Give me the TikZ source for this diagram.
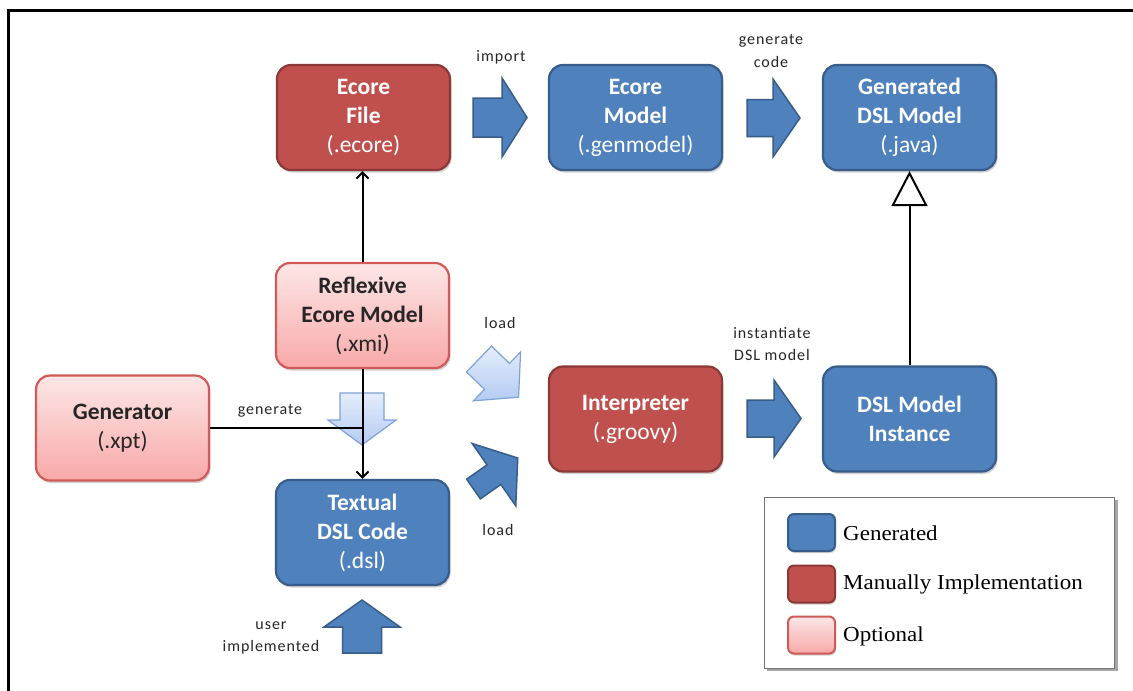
\documentclass[tikz,border=0pt]{standalone}
\usepackage{fontspec}
\setmainfont{Carlito}
\newfontfamily\labelfont[LetterSpace=6]{Carlito}
\newfontfamily\legendfont[FakeStretch=1.08]{Liberation Serif}
\usetikzlibrary{arrows.meta,shadows}
\definecolor{gblue}{HTML}{4F81BD}
\definecolor{gblueb}{HTML}{385D8A}
\definecolor{mred}{HTML}{C0504D}
\definecolor{mredb}{HTML}{8C3836}
\definecolor{opt1}{HTML}{FDE6E6}
\definecolor{opt2}{HTML}{F8A9A9}
\definecolor{optb}{HTML}{D05A57}
\definecolor{lb1}{HTML}{E4EDFB}
\definecolor{lb2}{HTML}{B4CBF2}
\definecolor{lbb}{HTML}{7EA2D6}
\definecolor{txt}{HTML}{262626}
\newcommand{\blockarr}[8]{\draw[#1, shift={(#2,#3)}, rotate=#4] (0,-#7) -- ({#5-#6},-#7) -- ({#5-#6},-#8) -- (#5,0) -- ({#5-#6},#8) -- ({#5-#6},#7) -- (0,#7) -- cycle;}
\begin{document}
\begin{tikzpicture}[x=1pt,y=1pt,
  box/.style={rounded corners=14pt, minimum width=173pt, minimum height=105pt, align=center,
    line width=2.2pt, font=\fontsize{23.5}{29}\selectfont, inner sep=0pt,
    drop shadow={shadow xshift=1.5pt, shadow yshift=-2.5pt, opacity=0.18, fill=black}},
  genbox/.style={box, fill=gblue, draw=gblueb, text=white},
  manbox/.style={box, fill=mred, draw=mredb, text=white},
  optbox/.style={box, top color=opt1, bottom color=opt2, draw=optb, text=txt},
  swatch/.style={rounded corners=6pt, minimum width=47pt, minimum height=37pt, inner sep=0pt, line width=2pt,
    drop shadow={shadow xshift=1pt, shadow yshift=-2pt, opacity=0.18, fill=black}},
  lbl/.style={font=\labelfont\fontsize{16}{22.5}\selectfont, text=txt, align=center, inner sep=0pt},
  legtxt/.style={font=\legendfont\fontsize{21.3}{25}\selectfont, text=black, anchor=west, inner sep=0pt},
  darr/.style={fill=gblue, draw=gblueb, line width=1.5pt, line join=miter},
  larr/.style={top color=lb1, bottom color=lb2, draw=lbb, line width=1.2pt, line join=miter},
  conn/.style={draw=black, line width=2pt},
  barb/.style={-{Straight Barb[length=6pt,width=12pt,line width=2pt]}}
]
\useasboundingbox (0,0) rectangle (1133,-691);
\fill[white] (0,0) rectangle (1133,-691);
% frame
\draw[line width=3pt] (8,-691) -- (8,-10) -- (1133,-10);

% block arrows
\blockarr{darr}{473}{-117.5}{0}{54}{25}{19.5}{39.5}
\blockarr{darr}{747}{-118}{0}{53}{27}{18.5}{39}
\blockarr{darr}{747}{-418.5}{0}{54}{27}{18.5}{38.5}
\blockarr{darr}{362}{-653}{90}{53}{27}{19.5}{38}
\blockarr{larr}{362}{-393}{-90}{52}{25}{22}{34}
\blockarr{larr}{479}{-359}{-44}{55}{30}{18}{34}
\blockarr{darr}{473.5}{-489}{35}{54}{29}{12}{38}

% boxes
\node[manbox] (ecfile) at (363.5,-117.5) {\textbf{Ecore}\\\textbf{File}\\(.ecore)};
\node[genbox] (ecmodel) at (635.5,-117.5) {\textbf{Ecore}\\\textbf{Model}\\(.genmodel)};
\node[genbox] (gendsl) at (909.5,-117.5) {\textbf{Generated}\\\textbf{DSL Model}\\(.java)};
\node[optbox] (refl) at (362.5,-315.5) {\textbf{Reflexive}\\\textbf{Ecore Model}\\(.xmi)};
\node[optbox] (gen) at (122.5,-428) {\textbf{Generator}\\(.xpt)};
\node[genbox] (textual) at (362.5,-532.5) {\textbf{Textual}\\\textbf{DSL Code}\\(.dsl)};
\node[manbox] (interp) at (635.5,-419) {\textbf{Interpreter}\\(.groovy)};
\node[genbox] (dslinst) at (909.5,-419) {\textbf{DSL Model}\\\textbf{Instance}};

% connectors
\draw[conn, barb] (refl.north) -- (refl.north |- ecfile.south);
\draw[conn, barb] (refl.south) -- (refl.south |- textual.north);
\draw[conn] (gen.east) -- (gen.east -| refl.south);
\draw[conn, -{Triangle[open, length=35pt, width=36pt, line width=2pt]}] (dslinst.north) -- (gendsl.south);

% labels
\node[lbl] (limport) at (501,-57) {import};
\node[lbl] (lgencode) at (771,-51) {generate\\code};
\node[lbl] (lload1) at (500,-323) {load};
\node[lbl] (linst) at (772,-344) {instantiate\\DSL model};
\node[lbl] (lload2) at (498,-530) {load};
\node[lbl] (luser) at (271,-638) {user\\implemented};
\node[lbl] (lgen) at (270,-411) {generate};

% legend
\fill[black!35] (767,-500) rectangle (1117.5,-671);
\node[draw=black!55, fill=white, line width=1.2pt, minimum width=350pt, minimum height=171pt, inner sep=0pt] (legend) at (939.5,-583) {};
\node[swatch, fill=gblue, draw=gblueb] (legG) at (811.5,-532.5) {};
\node[swatch, fill=mred, draw=mredb] (legM) at (811.5,-584) {};
\node[swatch, top color=opt1, bottom color=opt2, draw=optb] (legO) at (811.5,-635) {};
\node[legtxt] (tG) at (843,-533) {Generated};
\node[legtxt] (tM) at (843,-584) {Manually Implementation};
\node[legtxt] (tO) at (843,-636) {Optional};
\end{tikzpicture}
\end{document}
